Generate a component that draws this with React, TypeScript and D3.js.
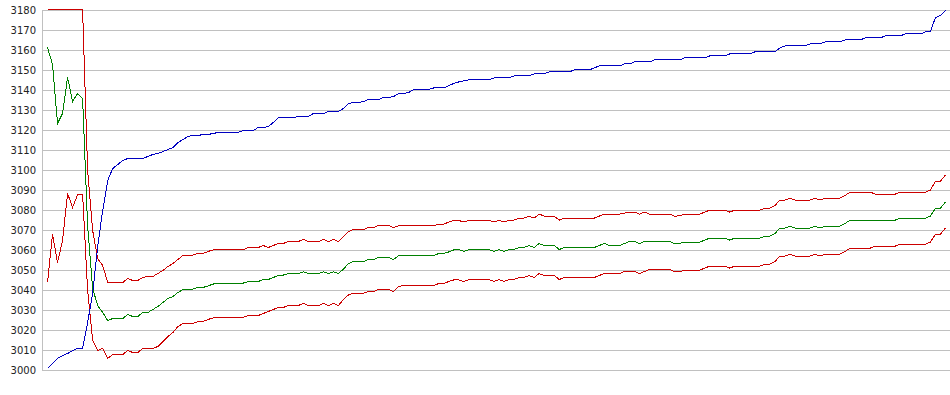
import React, { useEffect, useRef } from 'react';
import * as d3 from 'd3';

// y axis ticks
const yTicks = [3000, 3010, 3020, 3030, 3040, 3050, 3060, 3070, 3080, 3090, 3100, 3110, 3120, 3130, 3140, 3150, 3160, 3170, 3180];

// blue series
const blueValues = [
  3001, 3003.5, 3006, 3007.5, 3008.5, 3010, 3011, 3011, 3024, 3038.5,
  3062, 3080, 3095, 3101, 3103, 3105, 3106, 3106, 3106, 3106,
  3107, 3108, 3108.5, 3109.5, 3110.5, 3111.5, 3114, 3115.5, 3117, 3117.5,
  3117.5, 3118, 3118, 3118.5, 3119, 3119, 3119, 3119, 3119, 3120,
  3120, 3120, 3121.5, 3121.5, 3122, 3124, 3126.5, 3126.5, 3126.5, 3126.5,
  3127, 3127, 3127, 3128.5, 3128.5, 3128.5, 3129.5, 3129.5, 3129.5, 3131,
  3133.5, 3134, 3134, 3134.5, 3135.5, 3135.5, 3135.5, 3136.5, 3136.5, 3137,
  3138.5, 3138.5, 3139, 3140.5, 3140.5, 3140.5, 3140.5, 3141.3, 3141.3, 3141.3,
  3142.5, 3143.5, 3144.3, 3144.8, 3145.3, 3145.3, 3145.3, 3145.3, 3145.3, 3146.3,
  3146.3, 3146.3, 3146.3, 3147.3, 3147.3, 3147.3, 3147.3, 3148.3, 3148.3, 3148.3,
  3149.3, 3149.3, 3149.3, 3149.3, 3149.3, 3150.3, 3150.3, 3150.3, 3150.3, 3151.3,
  3152.3, 3152.3, 3152.3, 3152.3, 3152.3, 3153.3, 3153.3, 3154.3, 3154.3, 3154.3,
  3154.3, 3155.3, 3155.3, 3155.3, 3155.3, 3155.3, 3155.3, 3156.3, 3156.3, 3156.3,
  3156.3, 3156.3, 3157.3, 3157.3, 3157.3, 3157.3, 3158.3, 3158.3, 3158.3, 3158.3,
  3158.3, 3159.3, 3159.3, 3159.3, 3159.3, 3159.3, 3161.3, 3162.3, 3162.3, 3162.3,
  3162.3, 3162.3, 3163.3, 3163.3, 3163.3, 3164.3, 3164.3, 3164.3, 3164.3, 3165.3,
  3165.3, 3165.3, 3165.3, 3166.3, 3166.3, 3166.3, 3166.3, 3167.3, 3167.3, 3167.3,
  3167.3, 3168.3, 3168.3, 3168.3, 3168.3, 3169.3, 3169.5, 3176.5, 3177.5, 3180
];

// green series (middle)
const greenValues = [
  3161.5, 3153, 3123.5, 3128.5, 3146.5, 3134.5, 3138.5, 3136, 3072, 3041,
  3032.5, 3029, 3025, 3026, 3026, 3026, 3028, 3027, 3027, 3029,
  3029, 3030.5, 3032, 3034, 3036, 3037, 3039, 3040.5, 3040.7, 3040.7,
  3041.5, 3041.5, 3042.3, 3043.2, 3043.7, 3043.7, 3043.7, 3043.7, 3043.7, 3043.7,
  3044.5, 3044.5, 3044.5, 3045.5, 3045.5, 3046.5, 3047.5, 3047.7, 3048.5, 3048.5,
  3048.5, 3049.3, 3048.5, 3048.5, 3048.5, 3049.3, 3048.5, 3049.3, 3048.5, 3050.7,
  3053.5, 3054.5, 3054.5, 3054.5, 3055.5, 3055.5, 3056.5, 3056.5, 3056.5, 3055.5,
  3057.5, 3057.5, 3057.5, 3057.5, 3057.5, 3057.5, 3057.5, 3057.5, 3058.5, 3058.5,
  3059.3, 3060.3, 3060.5, 3059.5, 3060.5, 3060.5, 3060.5, 3060.5, 3060.5, 3059.5,
  3060.5, 3059.5, 3060.5, 3060.5, 3061.5, 3061.5, 3062.5, 3061.5, 3063.5, 3062.5,
  3062.5, 3062.5, 3060.5, 3061.5, 3061.5, 3061.5, 3061.5, 3061.5, 3061.5, 3061.5,
  3062.5, 3063.5, 3062.5, 3062.5, 3062.5, 3063.5, 3064.5, 3064.5, 3063.5, 3064.5,
  3064.5, 3064.5, 3064.5, 3064.5, 3064.5, 3063.5, 3063.5, 3064.2, 3064.2, 3064.2,
  3064.2, 3065.2, 3066.2, 3066.2, 3066.2, 3066.2, 3065.2, 3066.2, 3066.2, 3066.2,
  3066.2, 3066.2, 3066.2, 3067.2, 3067.2, 3068.5, 3071.2, 3071.2, 3072.2, 3071.2,
  3071.2, 3071.2, 3071.2, 3072.2, 3071.2, 3072.2, 3072.2, 3072.2, 3072.2, 3073.5,
  3075.2, 3075.2, 3075.2, 3075.2, 3075.2, 3075.2, 3075.2, 3075.2, 3075.2, 3075.2,
  3076.2, 3076.2, 3076.2, 3076.2, 3076.2, 3076.2, 3077.2, 3081.2, 3081.2, 3084.2
];

// upper red series
const upperValues = [
  3180.5, 3180.5, 3180.5, 3180.5, 3180.5, 3180.5, 3180.5, 3180.5, 3100, 3070,
  3056, 3052.5, 3044, 3044, 3044, 3044, 3046, 3045, 3045, 3046.5,
  3047, 3047, 3048.5, 3050, 3052, 3053.5, 3055.5, 3057.5, 3057.7, 3057.7,
  3058.5, 3058.5, 3059.5, 3060.3, 3060.3, 3060.3, 3060.3, 3060.3, 3060.3, 3060.3,
  3061.5, 3061.5, 3061.5, 3062.5, 3061.5, 3062.5, 3063.5, 3063.5, 3064.5, 3064.5,
  3064.5, 3065.5, 3064.5, 3064.5, 3064.5, 3065.5, 3064.5, 3065.5, 3064.5, 3067,
  3069.5, 3070.5, 3070.5, 3070.5, 3071.5, 3071.5, 3072.5, 3072.5, 3072.5, 3071.5,
  3072.3, 3072.3, 3072.3, 3072.3, 3072.3, 3072.3, 3072.3, 3072.3, 3073.2, 3073.2,
  3074.2, 3075, 3075, 3074.2, 3075.2, 3075.2, 3075.2, 3075.2, 3075.2, 3074.2,
  3075.2, 3074.2, 3075.2, 3075.2, 3076.2, 3076.2, 3077.2, 3076.2, 3078.2, 3077.2,
  3077.2, 3077.2, 3075.2, 3076.2, 3076.2, 3076.2, 3076.2, 3076.2, 3076.2, 3076.2,
  3077.2, 3078.2, 3078.2, 3078.2, 3078.2, 3078.7, 3079.2, 3079.2, 3078.2, 3079.2,
  3078.2, 3078.2, 3078.2, 3078.2, 3078.2, 3077.2, 3077.3, 3078.2, 3078.2, 3078.2,
  3078.2, 3079.2, 3080.2, 3080.2, 3080.2, 3080.2, 3079.2, 3080.2, 3080.2, 3080.2,
  3080.2, 3080.2, 3080.2, 3081.2, 3081.2, 3082.5, 3085.2, 3085.2, 3086.2, 3085.2,
  3085.2, 3085.2, 3085.2, 3086.2, 3085.2, 3086.2, 3086.2, 3086.2, 3086.2, 3087.5,
  3089.2, 3089.2, 3089.2, 3089.2, 3089.2, 3088.2, 3088.2, 3088.2, 3088.2, 3088.2,
  3089.2, 3089.2, 3089.2, 3089.2, 3089.2, 3089.2, 3090.2, 3094.7, 3094.7, 3097.8
];

// lower red series
const lowerValues = [
  3044, 3068, 3054, 3065, 3088.5, 3081.5, 3088, 3088, 3040, 3015,
  3010, 3011, 3006, 3008, 3008, 3008, 3010, 3009, 3009, 3011,
  3011, 3011, 3012, 3014.5, 3017, 3019, 3022, 3023.5, 3023.5, 3023.5,
  3024.5, 3024.5, 3025.5, 3026.3, 3026.5, 3026.5, 3026.5, 3026.5, 3026.5, 3026.5,
  3027.5, 3027.5, 3027.5, 3028.5, 3029.5, 3030.5, 3031.5, 3031.5, 3032.5, 3032.5,
  3032.5, 3033.5, 3032.5, 3032.5, 3032.5, 3033.5, 3032.5, 3033.5, 3032.5, 3035.5,
  3037.8, 3038.7, 3038.7, 3038.7, 3039.5, 3039.5, 3040.5, 3040.5, 3040.5, 3039.5,
  3042, 3042.5, 3042.5, 3042.5, 3042.5, 3042.5, 3042.5, 3042.5, 3043.5, 3043.5,
  3044.5, 3045.3, 3045.3, 3044.5, 3045.5, 3045.5, 3045.5, 3045.5, 3045.5, 3044.5,
  3045.5, 3044.5, 3045.5, 3045.5, 3046.5, 3046.5, 3047.5, 3046.5, 3048.5, 3047.5,
  3047.5, 3047.5, 3045.5, 3046.5, 3046.5, 3046.5, 3046.5, 3046.5, 3046.5, 3046.5,
  3047.5, 3048.5, 3048.5, 3048.5, 3048.5, 3049.5, 3049.5, 3049.5, 3048.5, 3049.5,
  3050.5, 3050.5, 3050.5, 3050.5, 3050.5, 3049.5, 3049.3, 3050.2, 3050.2, 3050.2,
  3050.2, 3051.2, 3052.2, 3052.2, 3052.2, 3052.2, 3051.2, 3052.2, 3052.2, 3052.2,
  3052.2, 3052.2, 3052.2, 3053.2, 3053.2, 3054.5, 3057.2, 3057.2, 3058.2, 3057.2,
  3057.2, 3057.2, 3057.2, 3058.2, 3057.2, 3058.2, 3058.2, 3058.2, 3058.2, 3059.5,
  3061.2, 3061.2, 3061.2, 3061.2, 3061.2, 3062.2, 3062.2, 3062.2, 3062.2, 3062.2,
  3063.2, 3063.2, 3063.2, 3063.2, 3063.2, 3063.2, 3064.2, 3068.2, 3068.2, 3071.2
];

const BandChart = () => {
  const svgRef = useRef<SVGSVGElement>(null);

  useEffect(() => {
    if (!svgRef.current) return;
    const svg = d3.select(svgRef.current);
    svg.selectAll('*').remove();

    const width = 950;
    const height = 395;
    const plotLeft = 42;

    const x = d3.scaleLinear().domain([0, blueValues.length - 1]).range([47.5, 945.5]);
    const y = d3.scaleLinear().domain([3000, 3180]).range([370.5, 10.5]);

    svg.attr('width', width).attr('height', height);

    // background
    svg.append('rect').attr('width', width).attr('height', height).attr('fill', '#fff');

    // gridlines
    svg.append('g')
      .selectAll('line')
      .data(yTicks)
      .enter()
      .append('line')
      .attr('x1', plotLeft)
      .attr('x2', width)
      .attr('y1', d => y(d))
      .attr('y2', d => y(d))
      .attr('stroke', '#c0c0c0')
      .attr('stroke-width', 1)
      .attr('shape-rendering', 'crispEdges');

    // left axis line
    svg.append('line')
      .attr('x1', plotLeft + 0.5)
      .attr('x2', plotLeft + 0.5)
      .attr('y1', y(3180))
      .attr('y2', y(3000))
      .attr('stroke', '#c0c0c0')
      .attr('shape-rendering', 'crispEdges');

    // tick labels
    svg.append('g')
      .selectAll('text')
      .data(yTicks)
      .enter()
      .append('text')
      .attr('x', 36)
      .attr('y', d => y(d))
      .attr('dy', '0.36em')
      .attr('text-anchor', 'end')
      .attr('font-family', '"DejaVu Sans", Verdana, sans-serif')
      .attr('font-size', '10px')
      .attr('fill', '#222')
      .text(d => d);

    const line = d3.line<number>()
      .x((_, i) => x(i))
      .y(d => y(d));

    const series: [number[], string][] = [
      [greenValues, '#008000'],
      [lowerValues, '#cc0000'],
      [upperValues, '#cc0000'],
      [blueValues, '#0000c0']
    ];

    series.forEach(([values, color]) => {
      svg.append('path')
        .datum(values)
        .attr('d', line)
        .attr('fill', 'none')
        .attr('stroke', color)
        .attr('stroke-width', 1)
        .attr('shape-rendering', 'crispEdges');
    });
  }, []);

  return (
    <div style={{ position: 'absolute', left: 0, top: 0, width: '950px', height: '395px' }}>
      <svg ref={svgRef} width="950" height="395" style={{ display: 'block' }}></svg>
    </div>
  );
};

export default BandChart;
